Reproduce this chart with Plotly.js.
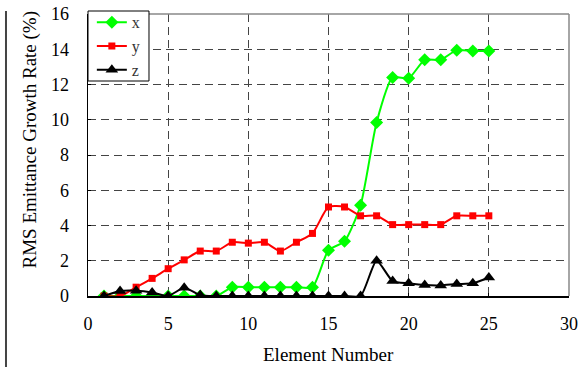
<!DOCTYPE html>
<html>
<head>
<meta charset="utf-8">
<script src="https://cdn.plot.ly/plotly-3.0.1.min.js"></script>
<style>html,body{margin:0;padding:0;background:#fff;}#chart{width:579px;height:367px;}</style>
</head>
<body>
<div id="chart"></div>
<script>
const elements = [1,2,3,4,5,6,7,8,9,10,11,12,13,14,15,16,17,18,19,20,21,22,23,24,25];
const xGrowth = [0,0,0,0,0,0,0,0,0.5,0.5,0.5,0.5,0.5,0.5,2.6,3.1,5.15,9.85,12.4,12.35,13.4,13.4,13.95,13.9,13.9];
const yGrowth = [0,0,0.5,1.0,1.55,2.05,2.55,2.55,3.05,3.0,3.05,2.55,3.05,3.55,5.05,5.05,4.55,4.55,4.05,4.05,4.05,4.05,4.55,4.55,4.55];
const zGrowth = [0,0.28,0.3,0.2,0,0.47,0.05,0,0,0,0,0,0,0,0,0,0,2.0,0.85,0.72,0.62,0.6,0.68,0.72,1.05];
const xTicks = [0,5,10,15,20,25,30];
const yTicks = [0,2,4,6,8,10,12,14,16];
const xTitle = 'Element Number';
const yTitle = 'RMS Emittance Growth Rate (%)';

const fam = 'Liberation Serif, Times New Roman, serif';

const traces = [
  {x: elements, y: xGrowth, name: 'x', mode: 'lines+markers',
   line: {color: '#00ff00', width: 2, shape: 'spline', smoothing: 0.6},
   marker: {symbol: 'diamond', size: 10, color: '#00ff00'}},
  {x: elements, y: yGrowth, name: 'y', mode: 'lines+markers',
   line: {color: '#ff0000', width: 2, shape: 'spline', smoothing: 0.6},
   marker: {symbol: 'square', size: 7, color: '#ff0000'}},
  {x: elements, y: zGrowth, name: 'z', mode: 'lines+markers',
   line: {color: '#000000', width: 2, shape: 'spline', smoothing: 0.6},
   marker: {symbol: 'triangle-up', size: 11, color: '#000000'}}
];

const gridStyle = {showgrid: true, gridcolor: '#444', griddash: '8px,5px', gridwidth: 1,
  zeroline: false, showline: true, linecolor: '#000', linewidth: 1.5,
  ticks: 'inside', ticklen: 3, tickcolor: '#000'};

const layout = {
  width: 579, height: 367,
  margin: {l: 88, r: 10, t: 14, b: 71, autoexpand: false},
  paper_bgcolor: '#fff', plot_bgcolor: '#fff',
  font: {family: fam, size: 18, color: '#000'},
  showlegend: true,
  legend: {x: 0.008, y: 1.031, xanchor: 'left', yanchor: 'top',
           bgcolor: 'rgba(0,0,0,0)', borderwidth: 0,
           font: {family: fam, size: 16, color: '#333'}},
  xaxis: Object.assign({range: [0, 30], tickvals: xTicks, ticktext: xTicks.map(String),
          tickfont: {family: fam, size: 18, color: '#000'}, ticklabelstandoff: 11}, gridStyle),
  yaxis: Object.assign({range: [0, 16], tickvals: yTicks, ticktext: yTicks.map(String),
          tickfont: {family: fam, size: 18, color: '#000'}, ticklabelstandoff: 14}, gridStyle),
  annotations: [
    {text: xTitle, xref: 'paper', yref: 'paper', x: 0.5, y: -0.2057, xanchor: 'center', yanchor: 'middle',
     showarrow: false, font: {family: fam, size: 19, color: '#000'}},
    {text: yTitle, xref: 'paper', yref: 'paper', x: -0.1206, y: 0.555, xanchor: 'center', yanchor: 'middle',
     textangle: -90, showarrow: false, font: {family: fam, size: 19, color: '#000'}}
  ],
  shapes: [
    {type: 'line', xref: 'paper', yref: 'paper', x0: 0, x1: 1, y0: 1, y1: 1, line: {color: '#888', width: 1.5}},
    {type: 'line', xref: 'paper', yref: 'paper', x0: 1, x1: 1, y0: 0, y1: 1, line: {color: '#888', width: 1.5}},
    {type: 'rect', xref: 'paper', yref: 'paper', x0: 0, x1: 0.1268, y0: 0.7624, y1: 1.0106,
     fillcolor: '#fff', line: {color: '#000', width: 1}, layer: 'above'},
    {type: 'line', xref: 'paper', yref: 'paper', x0: -0.1705, x1: -0.1705, y0: -0.26, y1: 1.0106,
     line: {color: '#444', width: 2}}
  ]
};

Plotly.newPlot('chart', traces, layout, {displayModeBar: false, staticPlot: true});
</script>
</body>
</html>
